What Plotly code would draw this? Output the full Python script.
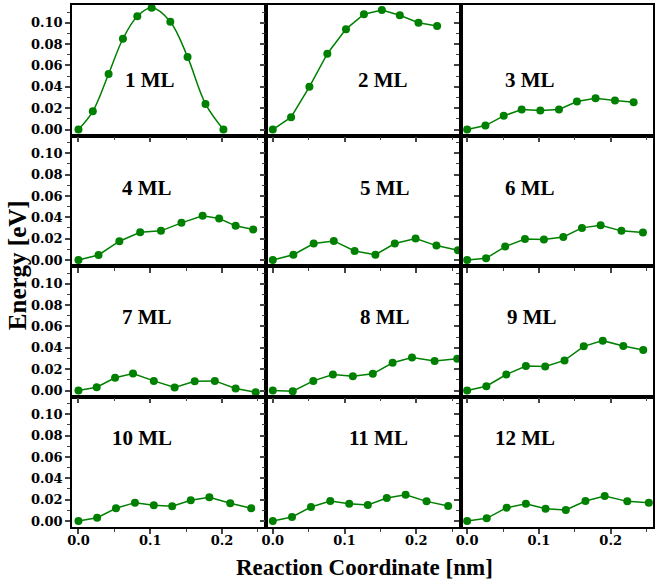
import plotly.graph_objects as go
from plotly.subplots import make_subplots

labels = ["1 ML", "2 ML", "3 ML", "4 ML", "5 ML", "6 ML",
          "7 ML", "8 ML", "9 ML", "10 ML", "11 ML", "12 ML"]

x1 = [0, 0.020, 0.042, 0.062, 0.082, 0.102, 0.128, 0.152, 0.177, 0.202]
y1 = [0, 0.017, 0.052, 0.085, 0.106, 0.114, 0.101, 0.068, 0.024, 0.000]
x2 = [0, 0.0255, 0.051, 0.076, 0.102, 0.127, 0.152, 0.177, 0.203, 0.229]
y2 = [0, 0.0115, 0.040, 0.071, 0.094, 0.108, 0.112, 0.107, 0.100, 0.097]
x3 = [0, 0.0255, 0.051, 0.076, 0.102, 0.128, 0.153, 0.179, 0.206, 0.232]
y3 = [0, 0.0037, 0.0128, 0.0187, 0.0178, 0.0187, 0.0262, 0.0293, 0.0271, 0.0255]
x4 = [0, 0.028, 0.057, 0.086, 0.115, 0.1435, 0.173, 0.196, 0.219, 0.2435]
y4 = [0, 0.0047, 0.0176, 0.026, 0.0273, 0.0348, 0.0414, 0.0389, 0.032, 0.0286]
x5 = [0, 0.0287, 0.057, 0.085, 0.114, 0.143, 0.170, 0.199, 0.228, 0.258]
y5 = [0, 0.0050, 0.0154, 0.0179, 0.0085, 0.0050, 0.0154, 0.0201, 0.0135, 0.0091]
x6 = [0, 0.0264, 0.053, 0.0806, 0.107, 0.134, 0.160, 0.186, 0.215, 0.245]
y6 = [0, 0.0016, 0.0126, 0.0197, 0.0192, 0.0216, 0.0301, 0.0326, 0.0273, 0.0258]
x7 = [0, 0.0254, 0.051, 0.076, 0.105, 0.134, 0.162, 0.190, 0.219, 0.247]
y7 = [0, 0.0031, 0.0119, 0.016, 0.009, 0.0028, 0.0087, 0.009, 0.0019, -0.0016]
x8 = [0, 0.0278, 0.0565, 0.0838, 0.1116, 0.1394, 0.167, 0.194, 0.2255, 0.257]
y8 = [0, -0.0007, 0.009, 0.015, 0.0134, 0.0156, 0.026, 0.031, 0.0276, 0.0297]
x9 = [0, 0.0268, 0.0546, 0.0819, 0.1088, 0.1357, 0.1625, 0.189, 0.2176, 0.2454]
y9 = [0, 0.004, 0.015, 0.0229, 0.0226, 0.0282, 0.0414, 0.0467, 0.0417, 0.0379]
x10 = [0, 0.026, 0.0523, 0.0787, 0.105, 0.1306, 0.1565, 0.1824, 0.2115, 0.2407]
y10 = [0, 0.0031, 0.0119, 0.0172, 0.0147, 0.0138, 0.0194, 0.0222, 0.0166, 0.0119]
x11 = [0, 0.0268, 0.0532, 0.0801, 0.1065, 0.1324, 0.1588, 0.1851, 0.2143, 0.2444]
y11 = [0, 0.0038, 0.0131, 0.0187, 0.0162, 0.015, 0.0215, 0.0246, 0.0184, 0.014]
x12 = [0, 0.0273, 0.0551, 0.0819, 0.1093, 0.1375, 0.1649, 0.1917, 0.2232, 0.2532]
y12 = [0, 0.0025, 0.0125, 0.0162, 0.0115, 0.0103, 0.0187, 0.0234, 0.0184, 0.0171]

xs = [x1, x2, x3, x4, x5, x6, x7, x8, x9, x10, x11, x12]
ys = [y1, y2, y3, y4, y5, y6, y7, y8, y9, y10, y11, y12]

# label anchor positions (data coords) per panel
label_x = [0.099, 0.154, 0.088, 0.096, 0.156, 0.088, 0.096, 0.156, 0.090, 0.0885, 0.147, 0.0806]
label_y = [0.046, 0.0467, 0.046, 0.0677, 0.0677, 0.0677, 0.0687, 0.0687, 0.0687, 0.0775, 0.0775, 0.0775]

GREEN = "#008000"
TICKFONT = dict(family="DejaVu Serif", size=13, color="black", weight="bold")
LABELFONT = dict(family="Liberation Serif", size=21, color="black", weight="bold")
TITLEFONT = dict(family="Liberation Serif", size=23, color="black", weight="bold")

fig = make_subplots(rows=4, cols=3, horizontal_spacing=0, vertical_spacing=0,
                    column_widths=[195, 195, 193])

xranges = [[-0.009, 0.2618], [-0.009, 0.2618], [-0.009, 0.2590]]
yrange = [-0.0056, 0.1166]

for i in range(12):
    r = i // 3 + 1
    c = i % 3 + 1
    fig.add_trace(go.Scatter(
        x=xs[i], y=ys[i], mode="lines+markers",
        line=dict(color=GREEN, width=1.5, shape="spline" if i == 0 else "linear"),
        marker=dict(color=GREEN, size=8),
        showlegend=False), row=r, col=c)
    fig.update_xaxes(range=xranges[c - 1], dtick=0.1, tick0=0, tickformat=".1f",
                     showticklabels=(r == 4), ticks="outside", ticklen=5, tickwidth=1.5,
                     ticklabelstandoff=-4,
                     minor=dict(dtick=0.05, ticks="outside", ticklen=3, tickwidth=1.2, tick0=0),
                     showline=True, linecolor="black", linewidth=1.5, mirror=True,
                     showgrid=False, zeroline=False, tickfont=TICKFONT, row=r, col=c)
    fig.update_yaxes(range=yrange, dtick=0.02, tick0=0, tickformat=".2f",
                     showticklabels=(c == 1), ticks="outside", ticklen=5, tickwidth=1.5,
                     minor=dict(dtick=0.01, ticks="outside", ticklen=3, tickwidth=1.2, tick0=0),
                     showline=True, linecolor="black", linewidth=1.5, mirror=True,
                     showgrid=False, zeroline=False, tickfont=TICKFONT, row=r, col=c)
    fig.add_annotation(x=label_x[i], y=label_y[i], text=labels[i], showarrow=False,
                       font=LABELFONT, row=r, col=c, xanchor="center", yanchor="middle")

fig.add_annotation(xref="paper", yref="paper", x=0.5026, y=-0.0785,
                   text="Reaction Coordinate [nm]", showarrow=False,
                   font=TITLEFONT, xanchor="center", yanchor="middle")
fig.add_annotation(xref="paper", yref="paper", x=-0.0926, y=0.502,
                   text="Energy [eV]", showarrow=False, textangle=-90,
                   font=dict(family="Liberation Serif", size=25, color="black", weight="bold"),
                   xanchor="center", yanchor="middle")

fig.update_layout(width=655, height=584, margin=dict(l=72, r=0, t=5, b=57),
                  plot_bgcolor="white", paper_bgcolor="white")

fig.write_html("out.html", config={"displayModeBar": False},
               post_script="document.body.style.margin='0';document.body.style.overflow='hidden';")
